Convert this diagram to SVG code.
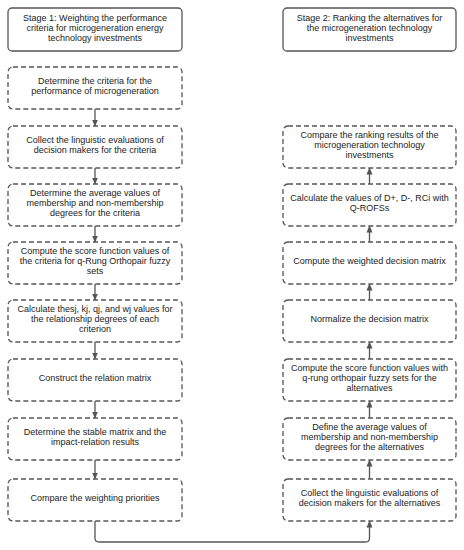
<svg xmlns="http://www.w3.org/2000/svg" width="464" height="550" viewBox="0 0 464 550">
<style>
.stage{fill:#fff;stroke:#555;stroke-width:1.3}
.step{fill:#fff;stroke:#555;stroke-width:1.3;stroke-dasharray:5 3}
text{font-family:"Liberation Sans",Arial,sans-serif;font-size:9px;fill:#222;text-anchor:middle}
.conn{fill:none;stroke:#555;stroke-width:1.3}
</style>
<defs>
<marker id="ah" markerUnits="userSpaceOnUse" markerWidth="7" markerHeight="7" refX="6.5" refY="3.5" orient="auto">
<path d="M0,0.5 L7,3.5 L0,6.5 z" fill="#555"/>
</marker>
</defs>
<rect width="464" height="550" fill="#fff"/>
<g id="connectors">
<path class="conn" marker-end="url(#ah)" d="M95,109 V126"/>
<path class="conn" marker-end="url(#ah)" d="M95,168 V184"/>
<path class="conn" marker-end="url(#ah)" d="M95,226 V242"/>
<path class="conn" marker-end="url(#ah)" d="M95,284 V300"/>
<path class="conn" marker-end="url(#ah)" d="M95,342 V359"/>
<path class="conn" marker-end="url(#ah)" d="M95,401 V418"/>
<path class="conn" marker-end="url(#ah)" d="M95,460 V479"/>
<path class="conn" marker-end="url(#ah)" d="M369.5,184 V168"/>
<path class="conn" marker-end="url(#ah)" d="M369.5,242 V226"/>
<path class="conn" marker-end="url(#ah)" d="M369.5,300 V284"/>
<path class="conn" marker-end="url(#ah)" d="M369.5,359 V342"/>
<path class="conn" marker-end="url(#ah)" d="M369.5,418 V401"/>
<path class="conn" marker-end="url(#ah)" d="M369.5,479 V460"/>
<path class="conn" marker-end="url(#ah)" d="M95,521 V538 Q95,542 99,542 H365.5 Q369.5,542 369.5,538 V521"/>
</g>
<g id="stage1">
<rect class="stage" x="8" y="8" width="174" height="43" rx="4"/>
<text x="95" y="21">Stage 1: Weighting the performance</text>
<text x="95" y="31">criteria for microgeneration energy</text>
<text x="95" y="41">technology investments</text>
</g>
<g id="stage2">
<rect class="stage" x="283" y="8" width="173" height="43" rx="4"/>
<text x="369.5" y="21">Stage 2: Ranking the alternatives for</text>
<text x="369.5" y="31">the microgeneration technology</text>
<text x="369.5" y="41">investments</text>
</g>
<g id="L1">
<rect class="step" x="8" y="67" width="174" height="42" rx="5"/>
<text x="95" y="84">Determine the criteria for the</text>
<text x="95" y="94">performance of microgeneration</text>
</g>
<g id="L2">
<rect class="step" x="8" y="126" width="174" height="42" rx="5"/>
<text x="95" y="143">Collect the linguistic evaluations of</text>
<text x="95" y="153">decision makers for the criteria</text>
</g>
<g id="L3">
<rect class="step" x="8" y="184" width="174" height="42" rx="5"/>
<text x="95" y="196">Determine the average values of</text>
<text x="95" y="206">membership and non-membership</text>
<text x="95" y="216">degrees for the criteria</text>
</g>
<g id="L4">
<rect class="step" x="8" y="242" width="174" height="42" rx="5"/>
<text x="95" y="254">Compute the score function values of</text>
<text x="95" y="264">the criteria for q-Rung Orthopair fuzzy</text>
<text x="95" y="274">sets</text>
</g>
<g id="L5">
<rect class="step" x="8" y="300" width="174" height="42" rx="5"/>
<text x="95" y="312">Calculate thesj, kj, qj, and wj values for</text>
<text x="95" y="322">the relationship degrees of each</text>
<text x="95" y="332">criterion</text>
</g>
<g id="L6">
<rect class="step" x="8" y="359" width="174" height="42" rx="5"/>
<text x="95" y="381">Construct the relation matrix</text>
</g>
<g id="L7">
<rect class="step" x="8" y="418" width="174" height="42" rx="5"/>
<text x="95" y="435">Determine the stable matrix and the</text>
<text x="95" y="445">impact-relation results</text>
</g>
<g id="L8">
<rect class="step" x="8" y="479" width="174" height="42" rx="5"/>
<text x="95" y="501">Compare the weighting priorities</text>
</g>
<g id="R1">
<rect class="step" x="283" y="126" width="173" height="42" rx="5"/>
<text x="369.5" y="138">Compare the ranking results of the</text>
<text x="369.5" y="148">microgeneration technology</text>
<text x="369.5" y="158">investments</text>
</g>
<g id="R2">
<rect class="step" x="283" y="184" width="173" height="42" rx="5"/>
<text x="369.5" y="201">Calculate the values of D+, D-, RCi with</text>
<text x="369.5" y="211">Q-ROFSs</text>
</g>
<g id="R3">
<rect class="step" x="283" y="242" width="173" height="42" rx="5"/>
<text x="369.5" y="264">Compute the weighted decision matrix</text>
</g>
<g id="R4">
<rect class="step" x="283" y="300" width="173" height="42" rx="5"/>
<text x="369.5" y="322">Normalize the decision matrix</text>
</g>
<g id="R5">
<rect class="step" x="283" y="359" width="173" height="42" rx="5"/>
<text x="369.5" y="371">Compute the score function values with</text>
<text x="369.5" y="381">q-rung orthopair fuzzy sets for the</text>
<text x="369.5" y="391">alternatives</text>
</g>
<g id="R6">
<rect class="step" x="283" y="418" width="173" height="42" rx="5"/>
<text x="369.5" y="430">Define the average values of</text>
<text x="369.5" y="440">membership and non-membership</text>
<text x="369.5" y="450">degrees for the alternatives</text>
</g>
<g id="R7">
<rect class="step" x="283" y="479" width="173" height="42" rx="5"/>
<text x="369.5" y="496">Collect the linguistic evaluations of</text>
<text x="369.5" y="506">decision makers for the alternatives</text>
</g>
</svg>
